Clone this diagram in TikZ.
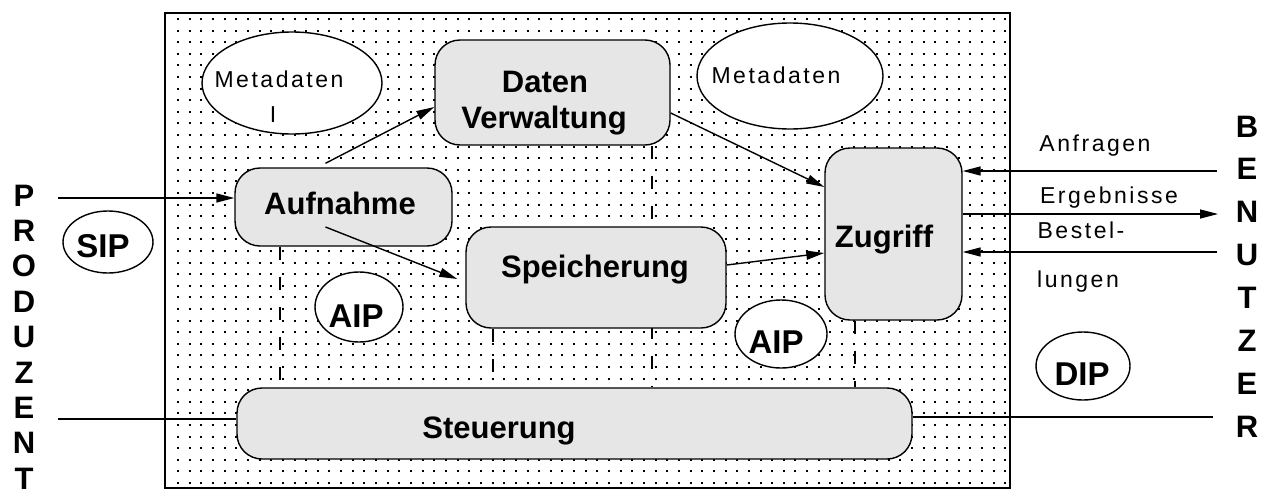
\documentclass[tikz,border=0pt]{standalone}
\usepackage{fontspec}
\setmainfont{Liberation Sans}
\newfontfamily\spacedfont[LetterSpace=11]{Liberation Sans}
\usetikzlibrary{arrows.meta,shapes.geometric,backgrounds,calc}
\definecolor{boxgray}{RGB}{230,230,230}
\tikzset{
  box/.style={draw=black, line width=1.4pt, fill=boxgray, rounded corners=25pt, inner sep=0pt},
  oval/.style={draw=black, line width=1.4pt, fill=white, ellipse, inner sep=0pt},
  boldlbl/.style={font=\fontsize{31}{37}\selectfont\bfseries, inner sep=0pt, anchor=base},
  ovallbl/.style={font=\fontsize{33}{40}\selectfont\bfseries, inner sep=0pt, anchor=base},
  thinlbl/.style={font=\spacedfont\fontsize{23}{28}\selectfont, inner sep=0pt, anchor=base},
  letter/.style={font=\fontsize{31}{36}\selectfont\bfseries, inner sep=0pt, anchor=base},
  conn/.style={line width=1.4pt},
  arr/.style={line width=1.4pt, -{Triangle[length=18pt,width=9pt]}},
  dashline/.style={line width=1.4pt, dash pattern=on 13pt off 17pt},
  dotrow/.style={line width=2pt, dash pattern=on 2pt off 9.65pt},
}
\begin{document}
\begin{tikzpicture}[x=1pt,y=-1pt]
\useasboundingbox (0,0) rectangle (1265,498);
% frame
\node[draw=black, line width=2pt, minimum width=845pt, minimum height=475pt, inner sep=0pt] (frame) at (587.5,250.5) {};
% boxes
\node[box, minimum width=217pt, minimum height=78pt] (auf) at (343.5,207) {};
\node[box, minimum width=235pt, minimum height=105pt] (dat) at (552.5,92.5) {};
\node[box, minimum width=260pt, minimum height=101pt] (spe) at (596,277.5) {};
\node[box, minimum width=137pt, minimum height=172pt] (zug) at (893.5,234) {};
\node[box, minimum width=675pt, minimum height=71pt] (ste) at (574.5,423.5) {};
% ovals
\node[oval, minimum width=180pt, minimum height=102pt] (metaL) at (292,83) {};
\node[oval, minimum width=186pt, minimum height=106pt] (metaR) at (790,76) {};
\node[oval, minimum width=90pt, minimum height=62pt] (sip) at (108,242) {};
\node[oval, minimum width=88pt, minimum height=70pt] (aip1) at (359,307) {};
\node[oval, minimum width=92pt, minimum height=68pt] (aip2) at (781,334) {};
\node[oval, minimum width=94pt, minimum height=68pt] (dip) at (1083,366) {};
% texts
\node[boldlbl] (tdat) at (545,92) {Daten};
\node[boldlbl] (tverw) at (544,128) {Verwaltung};
\node[boldlbl] (tauf) at (340,214) {Aufnahme};
\node[boldlbl] (tspe) at (595,277) {Speicherung};
\node[boldlbl] (tzug) at (884,247) {Zugriff};
\node[boldlbl] (tste) at (499,438) {Steuerung};
\node[thinlbl] (tmetaL) at (279,87) {Metadaten};
\node[thinlbl] (tmetaI) at (273,122) {I};
\node[thinlbl] (tmetaR) at (776,83) {Metadaten};
\node[ovallbl] (tsip) at (103,257) {SIP};
\node[ovallbl] (taip1) at (356,327) {AIP};
\node[ovallbl] (taip2) at (776,353) {AIP};
\node[ovallbl] (tdip) at (1082,385) {DIP};
\node[thinlbl] (tanf) at (1095,151) {Anfragen};
\node[thinlbl] (terg) at (1109,203) {Ergebnisse};
\node[thinlbl] (tbes) at (1081,238) {Bestel-};
\node[thinlbl] (tlun) at (1078,287) {lungen};
% PRODUZENT
\foreach \ch [count=\i from 0] in {P,R,O,D,U,Z,E,N,T}
  \node[letter] (prod\i) at (24,{206+\i*35.4}) {\ch};
% BENUTZER
\foreach \ch [count=\i from 0] in {B,E,N,U,T,Z,E,R}
  \node[letter] (ben\i) at (1247,{137+\i*42.86}) {\ch};
% helper coordinates
\path ([xshift=-63.5pt]auf.south) coordinate (da)
      ([xshift=99.5pt]dat.south) coordinate (db)
      ([xshift=-103pt]spe.south) coordinate (dc)
      ([xshift=-38.5pt]zug.south) coordinate (dd);
\begin{pgfonlayer}{background}
  \fill[white] (0,0) rectangle (1265,498);
  \foreach \j in {0,...,40}
    \draw[dotrow] (177,{19+\j*11.6}) -- (1006,{19+\j*11.6});
  \draw[dashline] (da) -- (da |- ste.north);
  \draw[dashline] (db) -- (db |- ste.north);
  \draw[dashline] (dc) -- (dc |- ste.north);
  \draw[dashline] (dd) -- (dd |- ste.north);
\end{pgfonlayer}
% connectors
\coordinate (pin) at (58,198);
\draw[arr] (pin) -- (pin -| auf.west);
\coordinate (pst) at (58,419);
\draw[conn] (pst) -- (pst -| ste.west);
\coordinate (bst) at (1213,417);
\draw[conn] (bst -| ste.east) -- (bst);
\coordinate (ban) at (1217,171);
\draw[arr] (ban) -- (ban -| zug.east);
\coordinate (ber) at (1218,214);
\draw[arr] (ber -| zug.east) -- (ber);
\coordinate (bbe) at (1217,252);
\draw[arr] (bbe) -- (bbe -| zug.east);
\draw[arr] ([xshift=-18pt,yshift=4pt]auf.north) -- ([yshift=-14.5pt]dat.west);
\draw[arr] ([xshift=-18pt,yshift=-20pt]auf.center) -- ([xshift=-8pt,yshift=-1.5pt]spe.west);
\draw[arr] ([yshift=-20.5pt]dat.east) -- ([yshift=47pt]zug.west);
\draw[arr] ([yshift=12.5pt]spe.east) -- ([yshift=-19pt]zug.west);
\end{tikzpicture}
\end{document}
